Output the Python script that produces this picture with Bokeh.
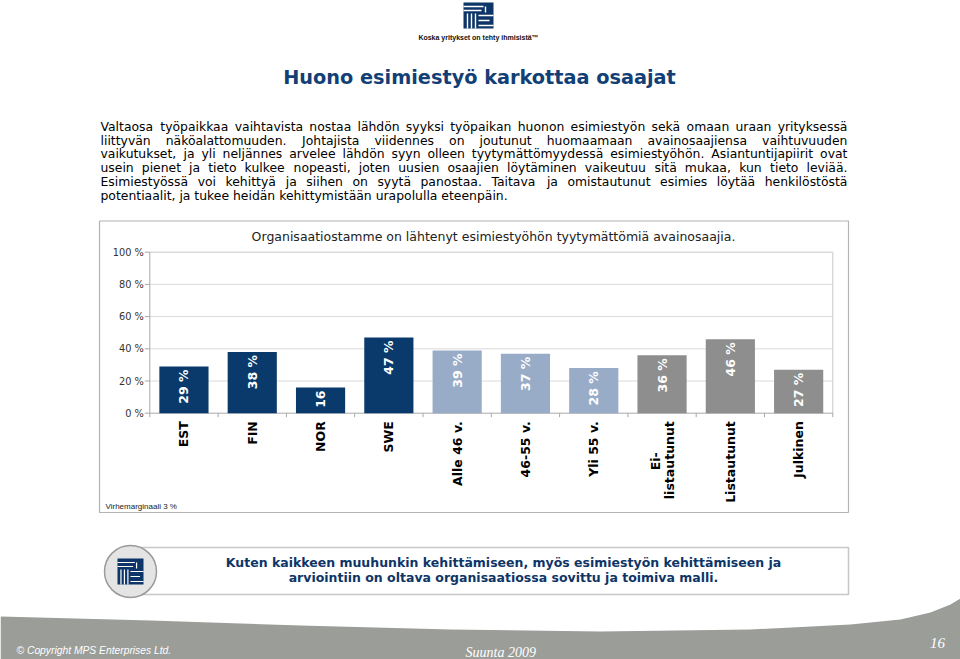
import math
from bokeh.plotting import figure
from bokeh.models import Range1d, ColumnDataSource
from bokeh.core.properties import value
from bokeh.embed import file_html
from bokeh.resources import INLINE

# ---------------- data ----------------
title = "Huono esimiestyö karkottaa osaajat"
intro_lines = [
    "Valtaosa työpaikkaa vaihtavista nostaa lähdön syyksi työpaikan huonon esimiestyön sekä omaan uraan yrityksessä",
    "liittyvän näköalattomuuden. Johtajista viidennes on joutunut huomaamaan avainosaajiensa vaihtuvuuden",
    "vaikutukset, ja yli neljännes arvelee lähdön syyn olleen tyytymättömyydessä esimiestyöhön. Asiantuntijapiirit ovat",
    "usein pienet ja tieto kulkee nopeasti, joten uusien osaajien löytäminen vaikeutuu sitä mukaa, kun tieto leviää.",
    "Esimiestyössä voi kehittyä ja siihen on syytä panostaa. Taitava ja omistautunut esimies löytää henkilöstöstä",
    "potentiaalit, ja tukee heidän kehittymistään urapolulla eteenpäin.",
]
chart_title = "Organisaatiostamme on lähtenyt esimiestyöhön tyytymättömiä avainosaajia."
categories = ["EST", "FIN", "NOR", "SWE", "Alle 46 v.", "46-55 v.", "Yli 55 v.",
              "Ei-\nlistautunut", "Listautunut", "Julkinen"]
values = [29, 38, 16, 47, 39, 37, 28, 36, 46, 27]
value_labels = ["29 %", "38 %", "16", "47 %", "39 %", "37 %", "28 %", "36 %", "46 %", "27 %"]
groups = ["maa", "maa", "maa", "maa", "ikä", "ikä", "ikä", "omistus", "omistus", "omistus"]
y_ticks = [0, 20, 40, 60, 80, 100]
y_tick_labels = ["0 %", "20 %", "40 %", "60 %", "80 %", "100 %"]
margin_note = "Virhemarginaali 3 %"
conclusion_lines = [
    "Kuten kaikkeen muuhunkin kehittämiseen, myös esimiestyön kehittämiseen ja",
    "arviointiin on oltava organisaatiossa sovittu ja toimiva malli.",
]
slogan = "Koska yritykset on tehty ihmisistä™"
footer_left = "© Copyright MPS Enterprises Ltd."
footer_mid = "Suunta 2009"
page_no = "16"

# ---------------- styles ----------------
group_colors = {"maa": "#0A3A6B", "ikä": "#98ACC8", "omistus": "#8E8E8E"}
NAVY = "#0E3567"
FONT = value("DejaVu Sans")

# approximate DejaVu Sans advance widths (em) for justifying the intro paragraph
_W = {" ": .318, ",": .318, ".": .318, "-": .361,
      "a": .613, "b": .635, "c": .550, "d": .635, "e": .615, "f": .352, "g": .635, "h": .634,
      "i": .278, "j": .278, "k": .579, "l": .278, "m": .974, "n": .634, "o": .612, "p": .635,
      "q": .635, "r": .411, "s": .521, "t": .392, "u": .634, "v": .592, "w": .818, "x": .592,
      "y": .592, "z": .525, "ä": .613, "ö": .612,
      "A": .684, "E": .632, "J": .295, "T": .611, "V": .684, "P": .603}

def text_width(s, size):
    return sum(_W.get(ch, 0.62) for ch in s) * size

W, H = 960, 659
p = figure(width=W, height=H, x_range=Range1d(0, W), y_range=Range1d(H, 0),
           output_backend="svg", toolbar_location=None,
           x_axis_location=None, y_axis_location=None,
           min_border=0, outline_line_color=None, background_fill_color="white")
p.grid.grid_line_color = None
p.xgrid.visible = False
p.ygrid.visible = False

# chart frame placement (pixels on page)
PL, PR, PT, PB = 149.3, 832.3, 251.7, 412.7
n = len(categories)
step = (PR - PL) / n
ppu = (PB - PT) / 100.0
p.extra_x_ranges = {"cx": Range1d(-0.5 - PL / step, -0.5 + (W - PL) / step)}
p.extra_y_ranges = {"cy": Range1d(-(H - PB) / ppu, PB / ppu)}
C = dict(x_range_name="cx", y_range_name="cy")

# ---------------- logos ----------------
def draw_logo(x0, y0, w, h):
    p.quad(left=x0, right=x0 + w, top=y0, bottom=y0 + h, fill_color=NAVY, line_color=None)
    sx, sy = w / 30.0, h / 26.0
    wl = dict(line_color="white", line_width=max(1.0, 1.4 * sx))
    p.segment(x0=[x0, x0], y0=[y0 + 4 * sy, y0 + 8 * sy], x1=[x0 + 20 * sx, x0 + 18 * sx],
              y1=[y0 + 4 * sy, y0 + 8 * sy], **wl)
    p.segment(x0=[x0 + 4 * sx, x0 + 8 * sx, x0 + 12 * sx], y0=[y0 + 11 * sy] * 3,
              x1=[x0 + 4 * sx, x0 + 8 * sx, x0 + 12 * sx], y1=[y0 + h] * 3, **wl)
    p.segment(x0=[x0 + 15 * sx, x0 + 15 * sx, x0 + 15 * sx], y0=[y0 + 13 * sy, y0 + 18 * sy, y0 + 23 * sy],
              x1=[x0 + w, x0 + 26 * sx, x0 + w], y1=[y0 + 13 * sy, y0 + 18 * sy, y0 + 23 * sy], **wl)
    p.segment(x0=[x0 + 22 * sx], y0=[y0 + 4 * sy], x1=[x0 + 22 * sx], y1=[y0 + 10 * sy], **wl)

draw_logo(463, 2, 30, 26)
p.text(x=[478], y=[37], text=[slogan], text_font=value("Liberation Sans"), text_font_style="bold",
       text_font_size="7px", text_color="#111111", text_align="center", text_baseline="middle")

# ---------------- title & intro ----------------
p.text(x=[479], y=[77], text=[title], text_font=FONT, text_font_style="bold",
       text_font_size="19.3px", text_color="#123F75", text_align="center", text_baseline="middle")

INTRO_SIZE = 12.4
INTRO_L, INTRO_R = 100, 847
wx, wy, wt = [], [], []
for li, line in enumerate(intro_lines):
    ypos = 126 + 13.7 * li
    if li == len(intro_lines) - 1:
        wx.append(INTRO_L); wy.append(ypos); wt.append(line)
        continue
    words = line.split(" ")
    widths = [text_width(wd, INTRO_SIZE) for wd in words]
    gap = (INTRO_R - INTRO_L - sum(widths)) / (len(words) - 1)
    cur = INTRO_L
    for wd, ww in zip(words, widths):
        wx.append(cur); wy.append(ypos); wt.append(wd)
        cur += ww + gap
p.text(x=wx, y=wy, text=wt, text_font=FONT, text_font_size=f"{INTRO_SIZE}px", text_color="#000000",
       text_align="left", text_baseline="middle")

# ---------------- chart box ----------------
p.quad(left=99, right=848, top=220.5, bottom=512, fill_color="white", line_color="#B4B4B4", line_width=1.2)
p.text(x=[493], y=[236], text=[chart_title], text_font=FONT, text_font_size="12.5px",
       text_color="#222222", text_align="center", text_baseline="middle")

x_left, x_right = -0.5, n - 0.5
grid_vals = [t for t in y_ticks if 0 < t < 100]
p.segment(x0=[x_left] * len(grid_vals), x1=[x_right] * len(grid_vals), y0=grid_vals, y1=grid_vals,
          line_color="#DADADA", line_width=1, **C)
p.segment(x0=[x_left, x_right], x1=[x_right, x_right], y0=[100, 0], y1=[100, 100],
          line_color="#C8C8C8", line_width=1, **C)
p.segment(x0=[x_left, x_left], x1=[x_right, x_left], y0=[0, 0], y1=[0, 100],
          line_color="#A8A8A8", line_width=1, **C)
p.segment(x0=[x_left] * len(y_ticks), x1=[x_left - 5 / step] * len(y_ticks), y0=y_ticks, y1=y_ticks,
          line_color="#A8A8A8", line_width=1, **C)
bx = [i + 0.5 for i in range(-1, n)]
p.segment(x0=bx, x1=bx, y0=[0] * len(bx), y1=[-4 / ppu] * len(bx), line_color="#A8A8A8", line_width=1, **C)

p.text(x=[x_left] * len(y_ticks), y=y_ticks, text=y_tick_labels, x_offset=-6, text_font=FONT,
       text_font_size="9.8px", text_color="#333333", text_align="right", text_baseline="middle", **C)

src = ColumnDataSource(dict(x=list(range(n)), top=values, lab=value_labels,
                            color=[group_colors[g] for g in groups]))
p.vbar(x="x", top="top", bottom=0, width=0.72, source=src, fill_color="color", line_color=None, **C)
p.text(x="x", y="top", text="lab", source=src, angle=math.pi / 2, text_align="right",
       text_baseline="middle", y_offset=3, text_font=FONT, text_font_style="bold",
       text_font_size="12.5px", text_color="white", **C)

# category labels (rotated)
single_x, single_t, multi = [], [], []
for i, lab in enumerate(categories):
    parts = lab.split("\n")
    if len(parts) == 1:
        single_x.append(i)
        single_t.append(lab)
    else:
        multi.append((i, parts))
p.text(x=single_x, y=[0] * len(single_x), text=single_t, angle=math.pi / 2, text_align="right",
       text_baseline="middle", y_offset=8, text_font=FONT, text_font_style="bold",
       text_font_size="12.5px", text_color="#000000", **C)
for i, parts in multi:
    k = len(parts)
    longest = max(len(s) for s in parts)
    block_len = longest * 7.3
    for j, s in enumerate(parts):
        xo = (j - (k - 1) / 2.0) * 14
        if len(s) == longest:
            p.text(x=[i], y=[0], text=[s], angle=math.pi / 2, text_align="right", text_baseline="middle",
                   x_offset=xo, y_offset=8, text_font=FONT, text_font_style="bold",
                   text_font_size="12.5px", text_color="#000000", **C)
        else:
            p.text(x=[i], y=[0], text=[s], angle=math.pi / 2, text_align="center", text_baseline="middle",
                   x_offset=xo, y_offset=8 + block_len / 2, text_font=FONT, text_font_style="bold",
                   text_font_size="12.5px", text_color="#000000", **C)

p.text(x=[105], y=[506], text=[margin_note], text_font=value("Liberation Sans"), text_font_size="8px",
       text_color="#222222", text_align="left", text_baseline="middle")

# ---------------- conclusion box ----------------
p.quad(left=130, right=848, top=547, bottom=594, fill_color="white", line_color="#C8C8C8", line_width=1.5)
p.circle(x=[130], y=[571], radius=26, fill_color="#E4E4E4", line_color="#9A9A9A", line_width=1.5)
draw_logo(117, 558, 26, 26)
p.text(x=[503, 503], y=[562, 577], text=conclusion_lines, text_font=FONT, text_font_style="bold",
       text_font_size="12.5px", text_color=NAVY, text_align="center", text_baseline="middle")

# ---------------- footer ----------------
fx = [0, 150, 300, 450, 600, 750, 850, 900, 930, 950, 960, 960, 0]
fy = [616, 620, 625, 629, 631, 629, 624, 619, 612, 604, 598, 659, 659]
p.patch(fx, fy, fill_color="#9B9D99", line_color=None)
p.text(x=[16], y=[650], text=[footer_left], text_font=value("Liberation Sans"), text_font_style="italic",
       text_font_size="10.3px", text_color="white", text_align="left", text_baseline="middle")
p.text(x=[465], y=[652], text=[footer_mid], text_font=value("Liberation Serif"), text_font_style="italic",
       text_font_size="14px", text_color="white", text_align="left", text_baseline="middle")
p.text(x=[937], y=[642], text=[page_no], text_font=value("Liberation Serif"), text_font_style="italic",
       text_font_size="15px", text_color="white", text_align="center", text_baseline="middle")

open("out.html", "w").write(file_html(p, INLINE))
